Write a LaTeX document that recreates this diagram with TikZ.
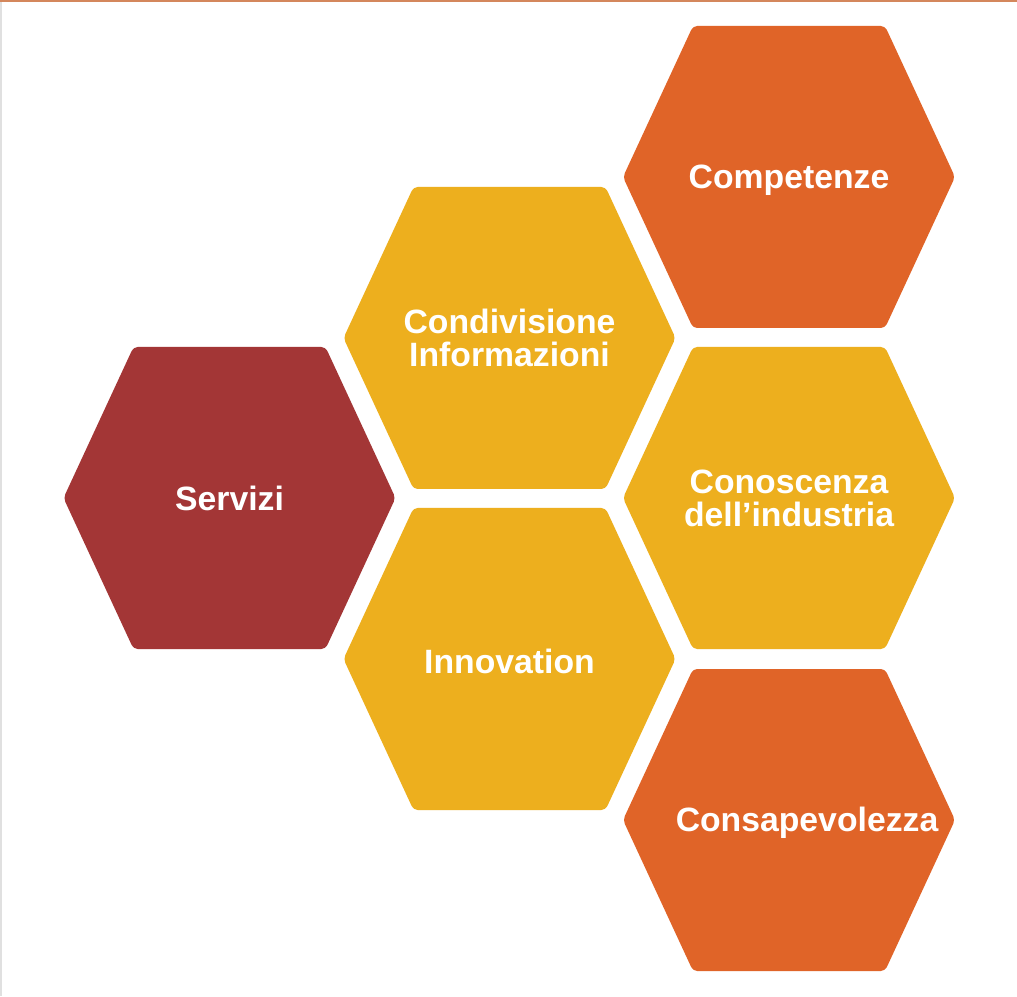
\documentclass[tikz,border=0pt]{standalone}
\usepackage{fontspec}
\setmainfont{Liberation Sans}

\definecolor{rosso}{HTML}{A33636}
\definecolor{giallo}{HTML}{EDAF1E}
\definecolor{arancio}{HTML}{E06428}
\definecolor{bordo}{HTML}{D4875C}

\tikzset{
  cella/.style={rounded corners=1.2pt},
  testo/.style={text=white, align=center, font=\fontsize{9.6}{9.4}\selectfont\bfseries}
}

% one hexagon of the honeycomb: #1 centre, #2 node name, #3 colour, #4 text
\newcommand{\esagono}[5][]{
  \fill[cella, #4, shift={(#2)}] (-1.66,0) -- (-0.96,1.51) -- (0.96,1.51) -- (1.66,0) -- (0.96,-1.51) -- (-0.96,-1.51) -- cycle;
  \node[testo, #1] (#3) at (#2) {#5};
}

\begin{document}
\begin{tikzpicture}

\useasboundingbox (0,0) rectangle (10.17,9.96);
\fill[white] (0,0) rectangle (10.17,9.96);

% frame
\fill[bordo] (0,9.94) rectangle (10.17,9.96);
\fill[black!12] (0,0) rectangle (0.02,9.94);

\esagono{2.295,4.98}{servizi}{rosso}{Servizi}

\esagono{5.095,6.58}{condivisione}{giallo}{Condivisione\\Informazioni}
\esagono[yshift=-0.02cm]{5.095,3.37}{innovation}{giallo}{Innovation}

\esagono[yshift=-0.03cm]{7.89,8.19}{competenze}{arancio}{Competenze}
\esagono{7.89,4.98}{conoscenza}{giallo}{Conoscenza\\dell’industria}
\esagono[xshift=0.18cm, yshift=-0.03cm]{7.89,1.76}{consapevolezza}{arancio}{Consapevolezza}

\end{tikzpicture}
\end{document}
